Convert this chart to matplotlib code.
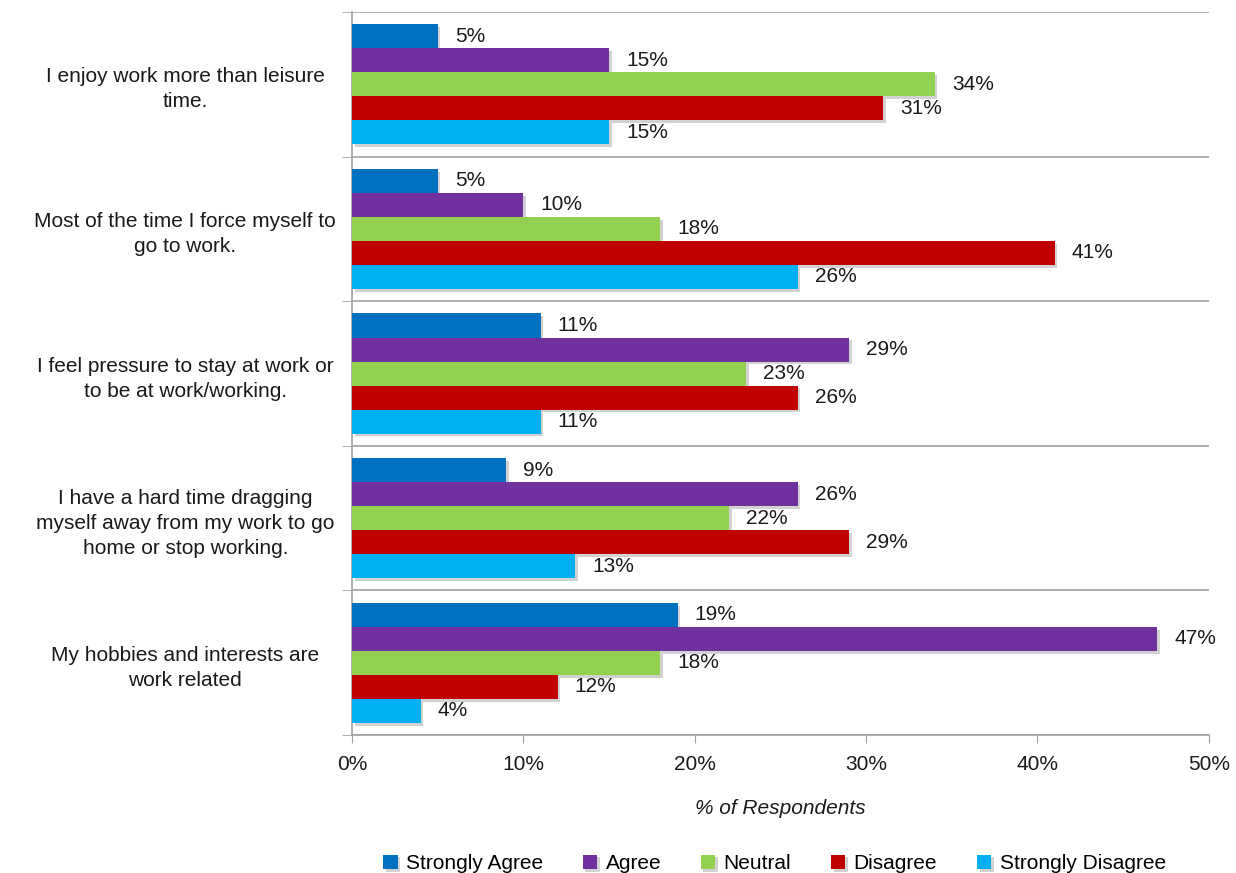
import numpy as np
import matplotlib.pyplot as plt
from matplotlib import font_manager
from matplotlib import patheffects as pe
from matplotlib.ticker import PercentFormatter

# pick a narrow font if the system has one
names = {f.name for f in font_manager.fontManager.ttflist}
fam = [n for n in ['Liberation Sans Narrow', 'Liberation Sans', 'DejaVu Sans'] if n in names]
plt.rcParams['font.family'] = fam

statements = [
    "I enjoy work more than leisure\ntime.",
    "Most of the time I force myself to\ngo to work.",
    "I feel pressure to stay at work or\nto be at work/working.",
    "I have a hard time dragging\nmyself away from my work to go\nhome or stop working.",
    "My hobbies and interests are\nwork related",
]
series = ["Strongly Agree", "Agree", "Neutral", "Disagree", "Strongly Disagree"]
strongly_agree = [5, 5, 11, 9, 19]
agree = [15, 10, 29, 26, 47]
neutral = [34, 18, 23, 22, 18]
disagree = [31, 41, 26, 29, 12]
strongly_disagree = [15, 26, 11, 13, 4]
colors = ["#0070C0", "#7030A0", "#92D050", "#C00000", "#00B0F0"]

values = [strongly_agree, agree, neutral, disagree, strongly_disagree]
fs = 15
txt = "#1a1a1a"

fig = plt.figure(figsize=(12.36, 8.73), dpi=100)
ax = fig.add_axes([0.2848, 0.158, 0.978 - 0.2848, 0.9863 - 0.158])

n_cat = len(statements)
bar_h = 0.166
shadow = [pe.SimplePatchShadow(offset=(2, -2), shadow_rgbFace="#808080", alpha=0.35),
          pe.Normal()]

for i, (name, vals, c) in enumerate(zip(series, values, colors)):
    y = np.arange(n_cat) + (i - 2) * bar_h
    bars = ax.barh(y, vals, height=bar_h, color=c, label=name, zorder=3)
    for b in bars:
        b.set_path_effects(shadow)
    for yy, v in zip(y, vals):
        ax.text(v + 1.0, yy, f"{v}%", va="center", ha="left", fontsize=fs,
                color=txt, zorder=4)

ax.set_ylim(n_cat - 0.5, -0.5)
ax.set_xlim(0, 50)
ax.set_yticks(np.arange(n_cat))
ax.set_yticklabels(statements, fontsize=fs, ha="center", color=txt, linespacing=1.4)
ax.tick_params(axis="y", length=0, pad=120)
ax.set_yticks(np.arange(-0.5, n_cat), minor=True)
ax.tick_params(axis="y", which="minor", length=7, color="#A0A0A0")
ax.grid(axis="y", which="minor", color="#A0A0A0", lw=1.2, zorder=0)

ax.set_xticks(np.arange(0, 51, 10))
ax.xaxis.set_major_formatter(PercentFormatter(decimals=0))
ax.tick_params(axis="x", labelsize=fs, length=6, color="#A0A0A0", labelcolor=txt, pad=8)
ax.set_xlabel("% of Respondents", fontsize=fs, style="italic", labelpad=18, color=txt)

for s in ["top", "right"]:
    ax.spines[s].set_visible(False)
for s in ["left", "bottom"]:
    ax.spines[s].set_color("#A0A0A0")
    ax.spines[s].set_linewidth(1.2)

ax.legend(loc="center", bbox_to_anchor=(0.493, -0.178), ncol=5, frameon=False,
          fontsize=fs, handlelength=0.7, handleheight=0.7, columnspacing=1.9,
          handletextpad=0.4)

fig.savefig("out.png", dpi=100)
